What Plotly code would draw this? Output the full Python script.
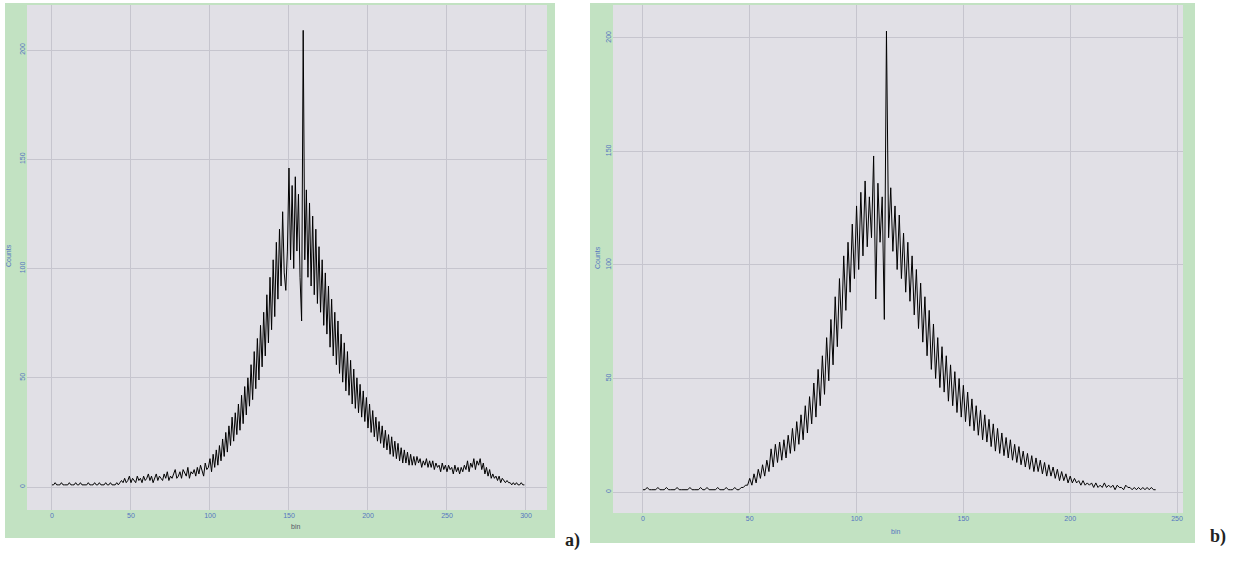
import plotly.graph_objects as go

# ---------------- data ----------------
a_x = list(range(0, 300))
a_counts = [
    1, 1, 2, 1, 1, 1, 2, 1, 1, 1,
    1, 2, 1, 1, 1, 2, 1, 1, 2, 1,
    1, 1, 1, 2, 1, 1, 1, 2, 1, 1,
    2, 1, 1, 1, 2, 1, 1, 2, 1, 1,
    1, 2, 1, 2, 3, 2, 4, 2, 3, 5,
    2, 4, 3, 2, 5, 3, 4, 2, 5, 3,
    4, 6, 3, 5, 2, 4, 6, 3, 5, 4,
    3, 6, 4, 7, 3, 5, 4, 6, 8, 4,
    5, 7, 4, 8, 6, 5, 9, 4, 7, 6,
    8, 5, 9, 6, 10, 7, 5, 11, 8, 9,
    13, 7, 15, 9, 17, 10, 19, 12, 22, 14,
    25, 16, 28, 19, 32, 21, 34, 24, 38, 26,
    42, 29, 46, 33, 50, 37, 56, 40, 62, 45,
    68, 49, 74, 55, 80, 60, 88, 66, 96, 72,
    104, 78, 112, 86, 118, 92, 126, 98, 90, 108,
    146, 104, 138, 100, 142, 108, 134, 96, 76, 209,
    104, 136, 96, 130, 92, 124, 88, 118, 84, 110,
    80, 104, 74, 98, 70, 92, 64, 86, 60, 80,
    56, 76, 52, 70, 48, 66, 44, 62, 42, 58,
    38, 54, 36, 50, 34, 47, 32, 44, 30, 41,
    27, 38, 25, 35, 23, 32, 21, 30, 20, 28,
    18, 26, 17, 24, 15, 23, 14, 21, 13, 20,
    12, 18, 11, 17, 11, 16, 10, 15, 10, 14,
    10, 14, 11, 13, 9, 12, 10, 13, 9, 12,
    9, 12, 8, 11, 9, 10, 7, 11, 8, 10,
    7, 10, 8, 9, 6, 10, 7, 9, 6, 9,
    7, 10, 8, 12, 7, 11, 9, 13, 8, 12,
    10, 13, 8, 11, 6, 9, 5, 8, 4, 6,
    4, 5, 3, 5, 2, 4, 3, 2, 3, 2,
    2, 1, 2, 1, 2, 1, 1, 2, 1, 1,
]

b_x = list(range(0, 241))
b_counts = [
    1, 1, 2, 1, 1, 1, 1, 2, 1, 1,
    1, 2, 1, 1, 1, 1, 2, 1, 1, 1,
    1, 1, 2, 1, 1, 1, 1, 2, 1, 1,
    2, 1, 1, 1, 1, 2, 1, 1, 1, 2,
    1, 1, 1, 2, 1, 1, 2, 2, 3, 3,
    6, 3, 8, 4, 10, 6, 12, 7, 14, 9,
    19, 11, 21, 13, 22, 14, 23, 15, 25, 17,
    28, 18, 31, 21, 34, 23, 38, 26, 42, 30,
    48, 33, 54, 38, 60, 43, 68, 49, 76, 56,
    86, 64, 94, 72, 104, 80, 110, 88, 118, 94,
    126, 98, 132, 104, 137, 108, 130, 112, 148, 85,
    136, 110, 130, 76, 203, 112, 134, 106, 126, 98,
    122, 94, 114, 88, 110, 84, 104, 78, 98, 72,
    92, 66, 86, 60, 80, 54, 74, 50, 68, 46,
    64, 44, 60, 40, 56, 38, 53, 35, 50, 33,
    47, 31, 44, 29, 41, 27, 38, 25, 36, 23,
    34, 22, 32, 20, 30, 18, 28, 17, 26, 16,
    24, 15, 23, 14, 21, 13, 20, 12, 18, 11,
    17, 10, 16, 9, 15, 9, 14, 8, 13, 7,
    12, 7, 11, 6, 10, 5, 9, 5, 8, 4,
    7, 4, 6, 4, 5, 3, 5, 3, 4, 3,
    4, 2, 4, 2, 3, 2, 4, 2, 3, 2,
    3, 1, 3, 2, 2, 1, 3, 2, 2, 1,
    2, 1, 2, 1, 2, 1, 2, 1, 2, 1,
    1,
]

a_xticks = [0, 50, 100, 150, 200, 250, 300]
b_xticks = [0, 50, 100, 150, 200, 250]
y_ticks = [0, 50, 100, 150, 200]

# ---------------- styling ----------------
W, H = 1256, 575
GREEN = "#c2e2c2"
PLOT_BG = "#e1e0e6"
GRID = "#c6c5ce"
TICK_FONT = dict(family="Liberation Sans", size=7, color="#5575c0")


def px_x(p):
    return p / W


def px_y(p):
    return 1 - p / H


fig = go.Figure()
fig.add_trace(go.Scatter(x=a_x, y=a_counts, mode="lines",
                         line=dict(color="black", width=1),
                         xaxis="x", yaxis="y", showlegend=False))
fig.add_trace(go.Scatter(x=b_x, y=b_counts, mode="lines",
                         line=dict(color="black", width=1),
                         xaxis="x2", yaxis="y2", showlegend=False))

axis_common = dict(showgrid=True, gridcolor=GRID, gridwidth=1, zeroline=False,
                   showline=False, ticks="", tickfont=TICK_FONT)

fig.update_layout(
    width=W, height=H,
    margin=dict(l=0, r=0, t=0, b=0),
    paper_bgcolor="white",
    plot_bgcolor=PLOT_BG,
    xaxis=dict(domain=[px_x(27), px_x(547)], range=[-15.8, 313.3],
               tickvals=a_xticks, anchor="y", **axis_common),
    yaxis=dict(domain=[px_y(510), px_y(5)], range=[-10.5, 220.6],
               tickvals=y_ticks, tickangle=-90, anchor="x", **axis_common),
    xaxis2=dict(domain=[px_x(613), px_x(1183)], range=[-14.0, 252.8],
                tickvals=b_xticks, anchor="y2", **axis_common),
    yaxis2=dict(domain=[px_y(513), px_y(5)], range=[-9.25, 214.5],
                tickvals=y_ticks, tickangle=-90, anchor="x2", **axis_common),
    shapes=[
        dict(type="rect", xref="paper", yref="paper", layer="below",
             x0=px_x(5), x1=px_x(555), y0=px_y(538), y1=px_y(3),
             fillcolor=GREEN, line=dict(width=0)),
        dict(type="rect", xref="paper", yref="paper", layer="below",
             x0=px_x(590), x1=px_x(1195), y0=px_y(543), y1=px_y(3),
             fillcolor=GREEN, line=dict(width=0)),
        dict(type="rect", xref="paper", yref="paper", layer="below",
             x0=px_x(27), x1=px_x(547), y0=px_y(510), y1=px_y(5),
             fillcolor=PLOT_BG, line=dict(width=0)),
        dict(type="rect", xref="paper", yref="paper", layer="below",
             x0=px_x(613), x1=px_x(1183), y0=px_y(513), y1=px_y(5),
             fillcolor=PLOT_BG, line=dict(width=0)),
    ],
    annotations=[
        dict(text="Counts", xref="paper", yref="paper", x=px_x(9), y=px_y(256),
             xanchor="center", textangle=-90, showarrow=False,
             font=dict(family="Liberation Sans", size=7, color="#5575c0")),
        dict(text="Counts", xref="paper", yref="paper", x=px_x(597), y=px_y(258),
             xanchor="center", textangle=-90, showarrow=False,
             font=dict(family="Liberation Sans", size=7, color="#5575c0")),
        dict(text="bin", xref="paper", yref="paper", x=px_x(289), y=px_y(532),
             showarrow=False, font=dict(family="Liberation Sans", size=7, color="#555566")),
        dict(text="bin", xref="paper", yref="paper", x=px_x(902), y=px_y(537),
             showarrow=False, font=dict(family="Liberation Sans", size=7, color="#5575c0")),
        dict(text="<b>a)</b>", xref="paper", yref="paper", x=px_x(572), y=px_y(553),
             showarrow=False, font=dict(family="Liberation Serif", size=18, color="#222222")),
        dict(text="<b>b)</b>", xref="paper", yref="paper", x=px_x(1228), y=px_y(549),
             showarrow=False, font=dict(family="Liberation Serif", size=18, color="#222222")),
    ],
)

fig.write_html("out.html")
